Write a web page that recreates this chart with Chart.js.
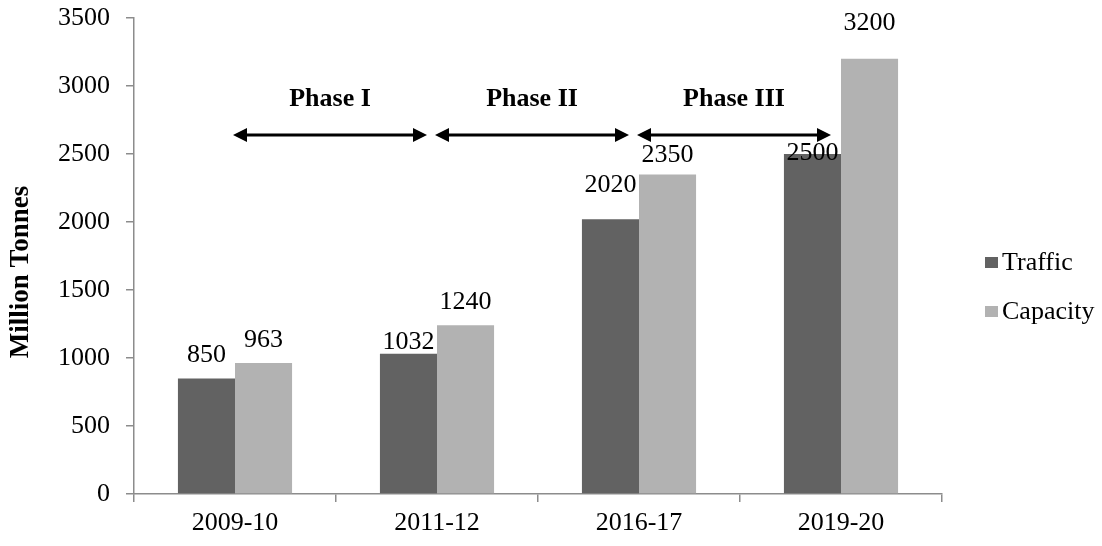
<!DOCTYPE html>
<html>
<head>
<meta charset="utf-8">
<script src="https://cdn.jsdelivr.net/npm/chart.js@4"></script>
<style>
  html, body { margin: 0; padding: 0; background: #fff; }
  #wrap { width: 1102px; height: 546px; }
</style>
</head>
<body>
<div id="wrap"><canvas id="myPortChart"></canvas></div>
<script>
const years = ['2009-10', '2011-12', '2016-17', '2019-20']
const traffic = [850, 1032, 2020, 2500]
const capacity = [963, 1240, 2350, 3200]
const yTicks = [0, 500, 1000, 1500, 2000, 2500, 3000, 3500]
const yTitle = 'Million Tonnes'
const phaseNames = ['Phase I', 'Phase II', 'Phase III']
const phaseFrom = [0, 1, 2]
const phaseTo = [1, 2, 3]

const serif = '"Liberation Serif", "Times New Roman", serif'
const axisGray = '#8c8c8c'

// how far above its bar each value label sits (px)
const labelGap = [[16, 5, 27, -6], [16, 16, 12, 29]]

const valueLabels = {
  id: 'valueLabels',
  afterDatasetsDraw(chart) {
    const ctx = chart.ctx
    ctx.save()
    ctx.font = '26px ' + serif
    ctx.fillStyle = '#000'
    ctx.textAlign = 'center'
    ctx.textBaseline = 'alphabetic'
    chart.data.datasets.forEach((ds, i) => {
      chart.getDatasetMeta(i).data.forEach((bar, j) => {
        ctx.fillText(String(ds.data[j]), bar.x, bar.y - labelGap[i][j])
      })
    })
    ctx.restore()
  }
}

const phaseArrows = {
  id: 'phaseArrows',
  afterDraw(chart) {
    const ctx = chart.ctx
    const x = chart.scales.x
    const y = chart.scales.y
    const arrowY = y.getPixelForValue(2640)
    const textY = y.getPixelForValue(2900)
    ctx.save()
    ctx.strokeStyle = '#000'
    ctx.fillStyle = '#000'
    ctx.lineWidth = 3
    phaseNames.forEach((name, k) => {
      const x1 = x.getPixelForValue(phaseFrom[k]) - 2
      const x2 = x.getPixelForValue(phaseTo[k]) - 10
      ctx.beginPath()
      ctx.moveTo(x1 + 10, arrowY)
      ctx.lineTo(x2 - 10, arrowY)
      ctx.stroke()
      ctx.beginPath()
      ctx.moveTo(x1, arrowY)
      ctx.lineTo(x1 + 14, arrowY - 7)
      ctx.lineTo(x1 + 14, arrowY + 7)
      ctx.closePath()
      ctx.fill()
      ctx.beginPath()
      ctx.moveTo(x2, arrowY)
      ctx.lineTo(x2 - 14, arrowY - 7)
      ctx.lineTo(x2 - 14, arrowY + 7)
      ctx.closePath()
      ctx.fill()
      ctx.font = 'bold 26px ' + serif
      ctx.textAlign = 'center'
      ctx.textBaseline = 'middle'
      ctx.fillText(name, (x1 + x2) / 2, textY)
    })
    ctx.restore()
  }
}

const sideLegend = {
  id: 'sideLegend',
  afterDraw(chart) {
    const ctx = chart.ctx
    const rows = [262, 311]
    ctx.save()
    ctx.font = '26px ' + serif
    ctx.textBaseline = 'middle'
    ctx.textAlign = 'left'
    chart.data.datasets.forEach((ds, i) => {
      ctx.fillStyle = ds.backgroundColor
      ctx.fillRect(985, rows[i] - 5, 13, 11)
      ctx.fillStyle = '#000'
      ctx.fillText(ds.label, 1002, rows[i] + 1)
    })
    // rotated axis title, sitting a little below the middle of the axis like the original
    ctx.translate(21, 272)
    ctx.rotate(-Math.PI / 2)
    ctx.font = 'bold 27px ' + serif
    ctx.textAlign = 'center'
    ctx.fillText(yTitle, 0, 0)
    ctx.restore()
  }
}

const data = {
  labels: years,
  datasets: [
    { label: 'Traffic', data: traffic, backgroundColor: '#626262' },
    { label: 'Capacity', data: capacity, backgroundColor: '#b2b2b2' }
  ]
}

const config = {
  type: 'bar',
  data: data,
  plugins: [valueLabels, phaseArrows, sideLegend],
  options: {
    responsive: true,
    maintainAspectRatio: false,
    animation: false,
    layout: { padding: { top: 18, right: 160, left: 0, bottom: 0 } },
    datasets: { bar: { categoryPercentage: 0.565, barPercentage: 1.0 } },
    plugins: { legend: { display: false }, tooltip: { enabled: false } },
    scales: {
      x: {
        grid: { offset: true, drawOnChartArea: false, drawTicks: true, tickLength: 8, color: axisGray, lineWidth: 1.5 },
        border: { color: axisGray, width: 1.5 },
        ticks: { color: '#000', font: { family: serif, size: 26 }, padding: 6, maxRotation: 0 },
        afterFit(scale) { scale.height = 52 }
      },
      y: {
        min: 0,
        max: 3500,
        afterBuildTicks(scale) { scale.ticks = yTicks.map(v => ({ value: v })) },
        grid: { drawOnChartArea: false, drawTicks: true, tickLength: 8, color: axisGray, lineWidth: 1.5 },
        border: { color: axisGray, width: 1.5 },
        ticks: {
          color: '#000',
          font: { family: serif, size: 26 },
          padding: 16,
          callback: value => String(value)
        },
        afterFit(scale) {
          scale.width = 134
          scale.paddingTop = 0
          scale.paddingBottom = 0
        }
      }
    }
  }
}

new Chart(document.getElementById('myPortChart'), config)
</script>
</body>
</html>
